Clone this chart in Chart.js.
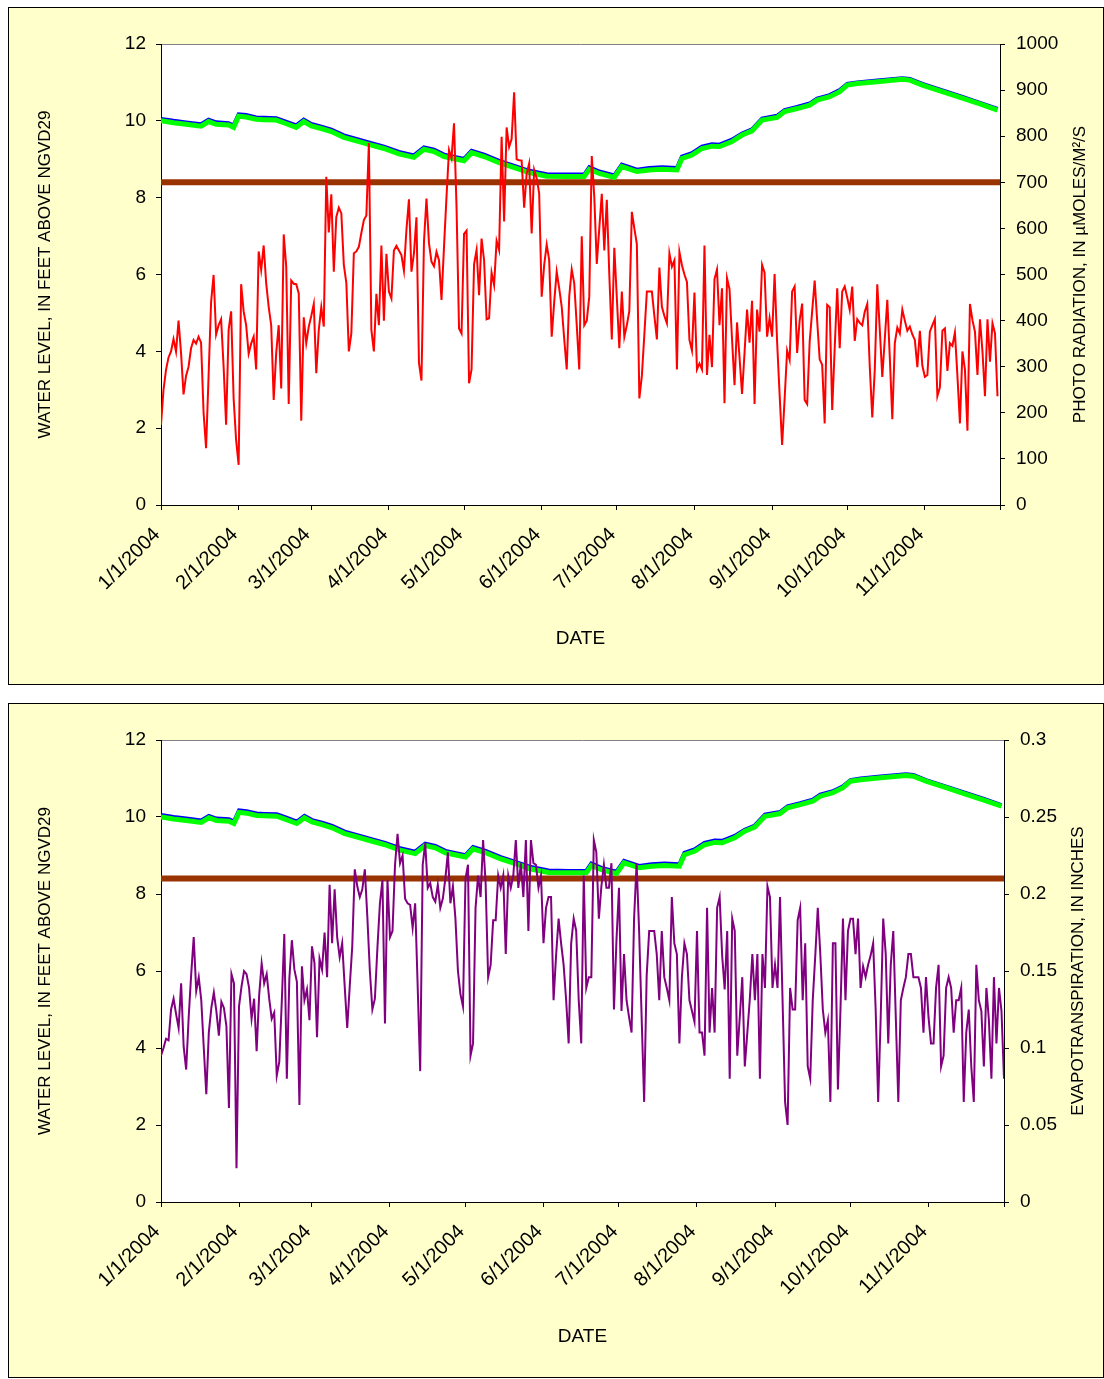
<!DOCTYPE html>
<html>
<head>
<meta charset="utf-8">
<script src="https://cdn.jsdelivr.net/npm/chart.js@4.4.1/dist/chart.umd.min.js"></script>
<style>
  body { margin: 0; background: #fff; }
  .panel { position: absolute; left: 8px; width: 1094px; border: 1px solid #000; background: #ffffcc; }
  .panel canvas { display: block; }
</style>
</head>
<body>
<div class="panel" style="top:7px;height:676px"><canvas id="radChart" width="1094" height="676"></canvas></div>
<div class="panel" style="top:703px;height:673px"><canvas id="etChart" width="1094" height="673"></canvas></div>
<script>
// x axis: month starts, last tick (12/1) drawn without label
const tickDates = ['1/1/2004', '2/1/2004', '3/1/2004', '4/1/2004', '5/1/2004', '6/1/2004',
  '7/1/2004', '8/1/2004', '9/1/2004', '10/1/2004', '11/1/2004', '12/1/2004'];
const tickLabels = tickDates.slice(0, 11).concat(['']);

// water level, ft above NGVD29 (day offsets from 1/1/2004)
const levelDays = [0, 5, 10, 16, 19, 22, 27, 29, 31, 34, 38, 41, 46, 49, 54, 57, 60, 64, 68, 73,
  78, 84, 89, 95, 101, 105, 109, 113, 121, 124, 129, 135, 142, 147, 154, 162, 169, 171, 175, 181,
  184, 190, 195, 200, 206, 208, 212, 216, 220, 223, 228, 232, 236, 240, 246, 249, 254, 259, 262, 267,
  271, 274, 278, 286, 296, 299, 304, 312, 320, 327, 334];
const levelGreen = [10.00, 9.95, 9.91, 9.86, 9.98, 9.91, 9.89, 9.83, 10.12, 10.10, 10.04, 10.03, 10.02, 9.95, 9.83, 9.98, 9.87, 9.80, 9.72, 9.57,
  9.48, 9.37, 9.28, 9.14, 9.05, 9.26, 9.20, 9.07, 8.96, 9.17, 9.07, 8.91, 8.76, 8.65, 8.56, 8.55, 8.55, 8.74, 8.63, 8.53,
  8.81, 8.68, 8.72, 8.74, 8.72, 9.02, 9.11, 9.28, 9.34, 9.33, 9.46, 9.63, 9.74, 10.02, 10.09, 10.24, 10.32, 10.41, 10.54, 10.63,
  10.76, 10.93, 10.97, 11.02, 11.08, 11.06, 10.93, 10.76, 10.59, 10.44, 10.28];
const levelBlue = [10.05, 10.00, 9.96, 9.91, 10.03, 9.96, 9.94, 9.88, 10.17, 10.15, 10.09, 10.08, 10.07, 10.00, 9.88, 10.03, 9.92, 9.85, 9.77, 9.62,
  9.53, 9.42, 9.33, 9.19, 9.10, 9.31, 9.25, 9.12, 9.01, 9.22, 9.12, 8.96, 8.81, 8.70, 8.61, 8.60, 8.60, 8.79, 8.68, 8.58,
  8.86, 8.73, 8.77, 8.79, 8.77, 9.07, 9.16, 9.33, 9.39, 9.38, 9.51, 9.67, 9.78, 10.06, 10.13, 10.28, 10.36, 10.45, 10.58, 10.67,
  10.80, 10.96, 11.00, 11.05, 11.11, 11.09, 10.96, 10.79, 10.62, 10.47, 10.31];
const referenceLevel = 8.4;

// daily photo radiation, umoles/m2/s, from 1/1/2004
const radiation = [
  174, 250, 293, 320, 333, 360, 333, 400, 330, 240,
  280, 300, 340, 358, 350, 365, 352, 200, 123, 280,
  440, 499, 370, 390, 403, 300, 174, 380, 420, 231,
  140, 87, 479, 420, 390, 328, 350, 365, 294, 550,
  510, 563, 481, 430, 390, 228, 330, 390, 253, 587,
  517, 219, 487, 480, 479, 459, 183, 407, 351, 387,
  410, 436, 286, 380, 429, 387, 712, 591, 674, 506,
  625, 645, 633, 521, 482, 333, 372, 546, 550, 560,
  590, 618, 628, 785, 380, 333, 458, 390, 563, 400,
  545, 463, 448, 552, 562, 552, 542, 508, 597, 663,
  506, 546, 624, 309, 270, 571, 665, 568, 528, 518,
  549, 531, 445, 560, 669, 770, 752, 828, 647, 383,
  372, 588, 595, 264, 294, 522, 553, 455, 578, 531,
  403, 405, 504, 477, 573, 553, 799, 615, 819, 777,
  794, 895, 750, 748, 747, 645, 719, 741, 589, 727,
  709, 676, 452, 521, 565, 531, 365, 440, 506, 470,
  430, 360, 294, 452, 511, 481, 390, 294, 583, 390,
  400, 452, 757, 669, 523, 600, 675, 552, 662, 500,
  359, 558, 450, 340, 463, 365, 390, 421, 636, 600,
  566, 231, 280, 370, 463, 463, 463, 410, 359, 515,
  430, 410, 394, 546, 517, 531, 294, 549, 520, 500,
  484, 358, 335, 461, 294, 307, 294, 563, 282, 369,
  299, 490, 511, 390, 470, 221, 492, 468, 360, 260,
  396, 320, 241, 330, 424, 352, 443, 219, 424, 376,
  521, 504, 365, 405, 365, 501, 354, 240, 130, 230,
  335, 315, 463, 474, 330, 400, 437, 228, 219, 354,
  420, 487, 400, 316, 304, 177, 434, 429, 206, 340,
  470, 340, 463, 474, 450, 423, 474, 356, 403, 395,
  390, 419, 436, 300, 190, 293, 479, 380, 278, 360,
  445, 320, 186, 351, 385, 372, 424, 400, 378, 387,
  370, 358, 299, 378, 302, 278, 282, 376, 390, 403,
  236, 255, 378, 383, 291, 351, 345, 374, 280, 177,
  333, 294, 161, 436, 401, 376, 282, 403, 333, 236,
  403, 311, 394, 372, 236
];

// daily evapotranspiration, inches, from 1/1/2004
const evapo = [
  .095, .100, .106, .105, .125, .132, .122, .113, .142, .101,
  .086, .120, .148, .172, .137, .146, .131, .100, .070, .110,
  .126, .136, .124, .108, .130, .126, .114, .061, .148, .142,
  .022, .127, .140, .150, .148, .139, .119, .132, .098, .134,
  .155, .142, .148, .132, .119, .123, .082, .091, .130, .174,
  .080, .145, .170, .151, .143, .063, .153, .131, .138, .118,
  .166, .155, .107, .158, .151, .175, .146, .206, .168, .203,
  .172, .159, .168, .140, .113, .140, .166, .216, .205, .198,
  .203, .216, .185, .150, .125, .132, .165, .194, .209, .116,
  .209, .172, .176, .219, .239, .220, .225, .197, .194, .193,
  .178, .194, .140, .085, .219, .233, .204, .207, .198, .195,
  .206, .191, .197, .210, .227, .194, .205, .184, .150, .135,
  .127, .210, .219, .095, .103, .191, .212, .198, .235, .207,
  .146, .154, .183, .183, .212, .204, .212, .161, .212, .204,
  .212, .235, .204, .220, .198, .235, .176, .235, .220, .219,
  .204, .212, .168, .191, .198, .198, .131, .160, .184, .168,
  .154, .131, .103, .168, .184, .176, .131, .103, .212, .139,
  .146, .146, .235, .227, .184, .205, .219, .204, .204, .220,
  .125, .170, .204, .124, .161, .131, .120, .110, .184, .220,
  .176, .120, .065, .147, .176, .176, .176, .161, .131, .176,
  .146, .139, .131, .198, .168, .161, .103, .146, .168, .161,
  .131, .124, .117, .176, .110, .110, .095, .191, .110, .139,
  .110, .191, .198, .160, .138, .176, .080, .184, .176, .095,
  .120, .146, .088, .110, .132, .161, .131, .161, .080, .161,
  .139, .205, .198, .139, .154, .139, .198, .131, .065, .050,
  .139, .125, .125, .183, .191, .131, .168, .088, .080, .131,
  .160, .191, .161, .125, .110, .118, .065, .168, .168, .073,
  .124, .184, .131, .176, .184, .184, .161, .184, .139, .153,
  .146, .154, .160, .168, .125, .065, .120, .184, .161, .103,
  .154, .176, .120, .065, .131, .139, .146, .161, .161, .146,
  .146, .146, .139, .110, .146, .120, .103, .103, .139, .154,
  .088, .095, .139, .146, .139, .110, .131, .131, .139, .065,
  .110, .125, .088, .065, .154, .131, .124, .088, .139, .118,
  .080, .146, .103, .139, .124, .080
];

const FONT = "'Liberation Sans', Arial, sans-serif";

// '3/1/2004' -> days since 1/1/2004
function dayOf(str) {
  const [m, d, y] = str.split('/').map(Number);
  return Math.round((Date.UTC(y, m - 1, d) - Date.UTC(2004, 0, 1)) / 86400000);
}
const tickDays = tickDates.map(dayOf);
const lastDay = tickDays[tickDays.length - 1];

// white plot area + grey top edge
const plotFrame = {
  id: 'plotFrame',
  beforeDraw(chart) {
    const { ctx, chartArea: a } = chart;
    ctx.save();
    ctx.fillStyle = '#fff';
    ctx.fillRect(a.left, a.top, a.right - a.left, a.bottom - a.top);
    ctx.strokeStyle = '#808080';
    ctx.lineWidth = 1;
    ctx.beginPath();
    ctx.moveTo(a.left, a.top + 0.5);
    ctx.lineTo(a.right, a.top + 0.5);
    ctx.stroke();
    ctx.restore();
  }
};

// right axis title reads bottom-to-top like the left one
function rightTitle(text, gap) {
  return {
    id: 'rightTitle',
    afterDraw(chart) {
      const { ctx, chartArea: a } = chart;
      ctx.save();
      ctx.translate(chart.width - gap, (a.top + a.bottom) / 2);
      ctx.rotate(-Math.PI / 2);
      ctx.font = '17px ' + FONT;
      ctx.fillStyle = '#000';
      ctx.textAlign = 'center';
      ctx.textBaseline = 'middle';
      ctx.fillText(text, 0, 0);
      ctx.restore();
    }
  };
}

function axisGrid() {
  return { drawOnChartArea: false, drawTicks: true, tickLength: 5, tickColor: '#000' };
}

function buildChart(id, p) {
  return new Chart(document.getElementById(id), {
    type: 'line',
    data: {
      datasets: [
        {
          label: p.rightLabel,
          data: p.values.map((v, i) => ({ x: i, y: v })),
          yAxisID: 'y1', borderColor: p.color, borderWidth: 2, order: 0
        },
        {
          label: 'water level',
          data: levelDays.map((d, i) => ({ x: d, y: levelGreen[i] })),
          yAxisID: 'y', borderColor: '#00ff00', borderWidth: 5, order: 1
        },
        {
          label: 'water level 2',
          data: levelDays.map((d, i) => ({ x: d, y: levelBlue[i] })),
          yAxisID: 'y', borderColor: '#0000ff', borderWidth: 4, order: 2
        },
        {
          label: 'reference',
          data: [{ x: 0, y: referenceLevel }, { x: lastDay, y: referenceLevel }],
          yAxisID: 'y', borderColor: '#993300', borderWidth: 6, order: 3
        }
      ]
    },
    options: {
      responsive: false,
      animation: false,
      devicePixelRatio: 1,
      layout: { padding: { top: 36, left: 0, right: 0, bottom: 0 } },
      elements: { point: { radius: 0 }, line: { tension: 0, borderCapStyle: 'butt' } },
      plugins: { legend: { display: false }, tooltip: { enabled: false } },
      scales: {
        x: {
          type: 'linear', min: 0, max: lastDay,
          afterBuildTicks: s => { s.ticks = tickDays.map(v => ({ value: v })); },
          afterFit: s => { s.height = p.xHeight; },
          ticks: {
            autoSkip: false, minRotation: 45, maxRotation: 45, padding: 13, labelOffset: -4,
            color: '#000', font: { family: FONT, size: 20 },
            callback: (v, i) => tickLabels[i]
          },
          grid: axisGrid(),
          border: { color: '#000' },
          title: {
            display: true, text: 'DATE', color: '#000',
            font: { family: FONT, size: 19 }, padding: { top: 0, bottom: p.dateGap }
          }
        },
        y: {
          position: 'left', min: 0, max: 12,
          afterFit: s => { s.width = 152; },
          ticks: { stepSize: 2, padding: 10, color: '#000', font: { family: FONT, size: 19 } },
          grid: axisGrid(),
          border: { color: '#000' },
          title: {
            display: true, text: 'WATER LEVEL, IN FEET ABOVE NGVD29', color: '#000',
            font: { family: FONT, size: 17 }, padding: { top: 26, bottom: 0 }
          }
        },
        y1: {
          position: 'right', min: 0, max: p.rightMax,
          afterFit: s => { s.width = p.rightWidth; },
          ticks: {
            stepSize: p.rightStep, padding: 11, color: '#000', font: { family: FONT, size: 19 },
            callback: v => String(+v.toFixed(2))
          },
          grid: axisGrid(),
          border: { color: '#000' },
          title: { display: false }
        }
      }
    },
    plugins: [plotFrame, rightTitle(p.rightLabel, p.rightTitleGap)]
  });
}

buildChart('radChart', {
  values: radiation, color: '#ff0000',
  rightLabel: 'PHOTO RADIATION, IN \u00b5MOLES/M\u00b2/S',
  rightMax: 1000, rightStep: 100, rightWidth: 103, rightTitleGap: 23,
  xHeight: 179, dateGap: 34
});

buildChart('etChart', {
  values: evapo, color: '#800080',
  rightLabel: 'EVAPOTRANSPIRATION, IN INCHES',
  rightMax: 0.3, rightStep: 0.05, rightWidth: 99, rightTitleGap: 25,
  xHeight: 175, dateGap: 29
});
</script>
</body>
</html>
